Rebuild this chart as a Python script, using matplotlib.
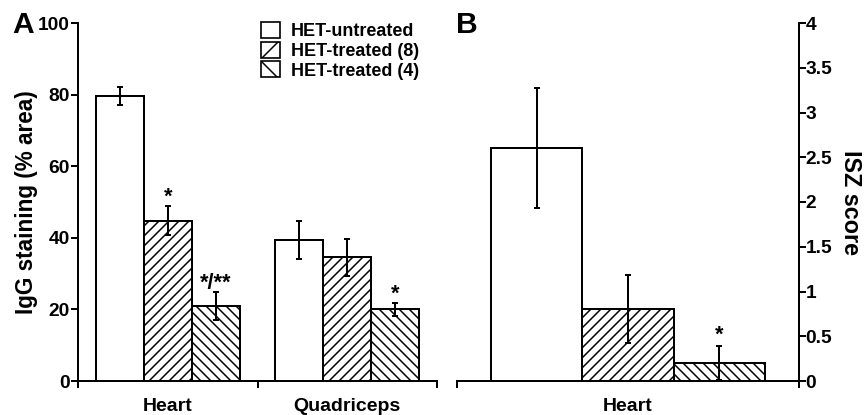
import numpy as np
import matplotlib.pyplot as plt
from matplotlib.patches import Patch

plt.rcParams['font.family'] = ['Liberation Sans', 'DejaVu Sans']
plt.rcParams['font.weight'] = 'bold'
plt.rcParams['hatch.linewidth'] = 0.9
plt.rcParams['axes.linewidth'] = 1.2

# data
groups = ["HET-untreated", "HET-treated (8)", "HET-treated (4)"]
hatches = ["", "////", "\\\\\\\\"]
legend_hatches = ["", "/", "\\"]

igg_tissues = ["Heart", "Quadriceps"]
igg_mean = {
    "HET-untreated": [79.6, 39.4],
    "HET-treated (8)": [44.8, 34.5],
    "HET-treated (4)": [20.9, 20.0],
}
igg_err = {
    "HET-untreated": [2.5, 5.4],
    "HET-treated (8)": [4.0, 5.3],
    "HET-treated (4)": [3.9, 1.8],
}
igg_sig = {
    "HET-treated (8)": ["*", ""],
    "HET-treated (4)": ["*/**", "*"],
}

isz_tissues = ["Heart"]
isz_mean = {"HET-untreated": [2.6], "HET-treated (8)": [0.8], "HET-treated (4)": [0.2]}
isz_err = {"HET-untreated": [0.67], "HET-treated (8)": [0.38], "HET-treated (4)": [0.19]}
isz_sig = {"HET-treated (4)": ["*"]}

W, H, DPI = 865, 415, 120
fig = plt.figure(figsize=(W / DPI, H / DPI), dpi=DPI)
ax_a = fig.add_axes([78 / W, 34 / H, 359 / W, 358 / H])
ax_b = fig.add_axes([457 / W, 34 / H, 342 / W, 358 / H])

bw = 0.8 / 3


def draw_bars(ax, tissues, mean, err, sig, star_pad):
    x = np.arange(len(tissues))
    for i, g in enumerate(groups):
        xs = x + (i - 1) * bw
        ax.bar(xs, mean[g], bw, color="white", edgecolor="black",
               linewidth=1.2, hatch=hatches[i], zorder=2)
        ax.errorbar(xs, mean[g], yerr=err[g], fmt="none", ecolor="black",
                    elinewidth=1.2, capsize=2, capthick=1.2, zorder=3)
        if g in sig:
            for xx, m, e, s in zip(xs, mean[g], err[g], sig[g]):
                if s:
                    ax.text(xx, m + e + star_pad, s, ha="center", va="bottom",
                            fontsize=13, fontweight="bold")
    ax.set_xlim(-0.5, len(tissues) - 0.5)
    ax.set_xticks(x)
    ax.set_xticklabels(tissues, fontsize=11.7, fontweight="bold")
    ax.set_xticks(np.arange(len(tissues) + 1) - 0.5, minor=True)
    ax.tick_params(axis="x", which="major", length=0, pad=10)
    ax.tick_params(axis="x", which="minor", length=4, width=1.2, direction="out")


# panel A
draw_bars(ax_a, igg_tissues, igg_mean, igg_err, igg_sig, -0.5)
ax_a.set_ylim(0, 100)
ax_a.set_yticks([0, 20, 40, 60, 80, 100])
ax_a.tick_params(axis="y", length=4, width=1.2, labelsize=11.5, pad=1)
for lab in ax_a.get_yticklabels():
    lab.set_fontweight("bold")
ax_a.set_ylabel("IgG staining (% area)", fontsize=13.5, fontweight="bold", labelpad=0)
ax_a.spines["top"].set_visible(False)
ax_a.spines["right"].set_visible(False)

handles = [Patch(facecolor="white", edgecolor="black", linewidth=1.0, hatch=h)
           for h in legend_hatches]
ax_a.legend(handles, groups, loc="upper left", bbox_to_anchor=(261 / W, 1 - 22 / H),
            bbox_transform=fig.transFigure, frameon=False,
            handlelength=1.05, handleheight=1.0, handletextpad=0.6,
            labelspacing=0.08, borderpad=0, borderaxespad=0,
            prop={"weight": "bold", "size": 10.8})

# panel B
draw_bars(ax_b, isz_tissues, isz_mean, isz_err, isz_sig, 0.0)
ax_b.set_ylim(0, 4)
ax_b.set_yticks([0, 0.5, 1, 1.5, 2, 2.5, 3, 3.5, 4])
ax_b.set_yticklabels(["0", "0.5", "1", "1.5", "2", "2.5", "3", "3.5", "4"])
ax_b.yaxis.tick_right()
ax_b.yaxis.set_label_position("right")
ax_b.tick_params(axis="y", length=4, width=1.2, labelsize=11.5, pad=0)
for lab in ax_b.get_yticklabels():
    lab.set_fontweight("bold")
ax_b.set_ylabel("ISZ score", fontsize=14, fontweight="bold", rotation=270,
                labelpad=18)
ax_b.spines["top"].set_visible(False)
ax_b.spines["left"].set_visible(False)

fig.text(12 / W, 1 - 25 / H, "A", fontsize=18, fontweight="bold", va="center")
fig.text(456 / W, 1 - 25 / H, "B", fontsize=18, fontweight="bold", va="center")

fig.savefig("out.png", dpi=DPI)
